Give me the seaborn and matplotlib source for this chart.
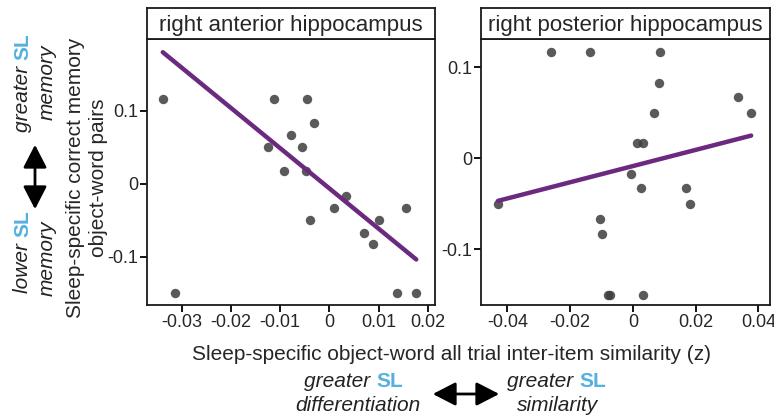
import matplotlib
matplotlib.use("Agg")
import matplotlib.pyplot as plt
from matplotlib.patches import FancyArrowPatch
import seaborn as sns

# ---- data ----
ant_similarity = [-0.0338, -0.0313, -0.0112, -0.0046, -0.0032, -0.0079, -0.0124,
                  -0.0056, -0.0092, -0.0047, 0.0033, 0.0009, -0.0039, 0.0101,
                  0.0155, 0.0071, 0.0089, 0.0136, 0.0176]
ant_memory = [0.117, -0.150, 0.117, 0.117, 0.083, 0.067, 0.050,
              0.050, 0.017, 0.017, -0.017, -0.033, -0.050, -0.050,
              -0.033, -0.067, -0.083, -0.150, -0.150]
# fitted line as drawn in the figure (end points)
ant_fit_x = [-0.0338, 0.0176]
ant_fit_y = [0.1805, -0.1036]

post_similarity = [-0.0430, -0.0261, -0.0136, 0.0087, 0.0082, 0.0068, 0.0013,
                   0.0032, -0.0005, 0.0027, -0.0106, -0.0099, -0.0078, -0.0072,
                   0.0032, 0.0169, 0.0181, 0.0336, 0.0377]
post_memory = [-0.050, 0.117, 0.117, 0.117, 0.083, 0.050, 0.017,
               0.017, -0.017, -0.033, -0.067, -0.083, -0.150, -0.150,
               -0.150, -0.033, -0.050, 0.067, 0.050]
post_fit_x = [-0.0430, 0.0377]
post_fit_y = [-0.0470, 0.0248]

panel_titles = ["right anterior hippocampus", "right posterior hippocampus"]
ant_xticks = [-0.03, -0.02, -0.01, 0, 0.01, 0.02]
ant_xlabels = ["-0.03", "-0.02", "-0.01", "0", "0.01", "0.02"]
post_xticks = [-0.04, -0.02, 0, 0.02, 0.04]
post_xlabels = ["-0.04", "-0.02", "0", "0.02", "0.04"]
yticks = [-0.1, 0, 0.1]
ylabels = ["-0.1", "0", "0.1"]

DOT = "#3d3d3d"
LINE = "#6B2A7F"
SL_BLUE = "#56B1DF"
INK = "#222222"

sns.set_style("ticks")
plt.rcParams["font.family"] = ["Liberation Sans", "DejaVu Sans"]
plt.rcParams["axes.unicode_minus"] = False

W, H = 774, 419
fig = plt.figure(figsize=(W / 100, H / 100), dpi=100)


def fx(px):
    return px / W


def fy(py):
    return 1 - py / H


def panel(x0, x1, xs, ys, fit_x, fit_y, title, xticks, xlabels, xlim, ylim):
    ax = fig.add_axes([fx(x0), fy(305), fx(x1 - x0), (305 - 39) / H])
    sns.scatterplot(x=xs, y=ys, ax=ax, s=46, color=DOT, alpha=0.85,
                    linewidth=0, zorder=2)
    sns.lineplot(x=fit_x, y=fit_y, ax=ax, color=LINE, lw=3.2, zorder=3)
    ax.set_xlim(*xlim)
    ax.set_ylim(*ylim)
    ax.set_xticks(xticks)
    ax.set_xticklabels(xlabels)
    ax.set_yticks(yticks)
    ax.set_yticklabels(ylabels)
    ax.set_xlabel("")
    ax.set_ylabel("")
    ax.tick_params(length=5, width=1.3, color="black", labelsize=13, pad=1.5)
    for s in ax.spines.values():
        s.set_visible(True)
        s.set_linewidth(1.3)
        s.set_color("#1a1a1a")

    # title strip
    st = fig.add_axes([fx(x0), fy(39), fx(x1 - x0), (39 - 8) / H])
    st.set_xticks([])
    st.set_yticks([])
    for s in st.spines.values():
        s.set_linewidth(1.3)
        s.set_color("#1a1a1a")
    st.text(0.5, 0.45, title, ha="center", va="center", fontsize=16,
            transform=st.transAxes)
    return ax


panel(147, 435, ant_similarity, ant_memory, ant_fit_x, ant_fit_y, panel_titles[0],
      ant_xticks, ant_xlabels, (-0.037, 0.0214), (-0.166, 0.1986))
panel(481, 770, post_similarity, post_memory, post_fit_x, post_fit_y, panel_titles[1],
      post_xticks, post_xlabels, (-0.0484, 0.0437), (-0.1615, 0.131))

# axis labels
fig.text(fx(452), fy(354), "Sleep-specific object-word all trial inter-item similarity (z)",
         ha="center", va="center", fontsize=15)
fig.text(fx(87), fy(178), "Sleep-specific correct memory\nobject-word pairs",
         ha="center", va="center", rotation=90, fontsize=15,
         multialignment="center", linespacing=1.3)


def hlabel(xc, y, word, fs=15):
    # "<word> SL" with SL in blue bold, split point given in px
    fig.text(fx(xc), fy(y), word + " ", ha="right", va="center",
             fontsize=fs, style="italic", color=INK)
    fig.text(fx(xc), fy(y), "SL", ha="left", va="center",
             fontsize=fs, weight="bold", color=SL_BLUE)


def vlabel(x, yc, word, fs=15):
    fig.text(fx(x), fy(yc), word + " ", ha="center", va="top", rotation=90,
             fontsize=fs, style="italic", color=INK)
    fig.text(fx(x), fy(yc), "SL", ha="center", va="bottom", rotation=90,
             fontsize=fs, weight="bold", color=SL_BLUE)


def double_arrow(p0, p1):
    fig.patches.append(FancyArrowPatch((fx(p0[0]), fy(p0[1])), (fx(p1[0]), fy(p1[1])),
                                       transform=fig.transFigure,
                                       arrowstyle="<|-|>,head_length=0.7,head_width=0.36",
                                       mutation_scale=20, lw=2.0, color="black"))


# bottom annotations
hlabel(376, 381, "greater")
fig.text(fx(358), fy(405), "differentiation", ha="center", va="center",
         fontsize=15, style="italic", color=INK)
hlabel(579, 381, "greater")
fig.text(fx(558), fy(405), "similarity", ha="center", va="center",
         fontsize=15, style="italic", color=INK)
double_arrow((430, 394), (502, 394))

# left annotations
vlabel(23, 60, "greater")
fig.text(fx(47), fy(82), "memory", ha="center", va="center", rotation=90,
         fontsize=15, style="italic", color=INK)
vlabel(23, 237, "lower")
fig.text(fx(47), fy(258), "memory", ha="center", va="center", rotation=90,
         fontsize=15, style="italic", color=INK)
double_arrow((35, 212), (35, 142))

fig.savefig("out.png", dpi=100)
